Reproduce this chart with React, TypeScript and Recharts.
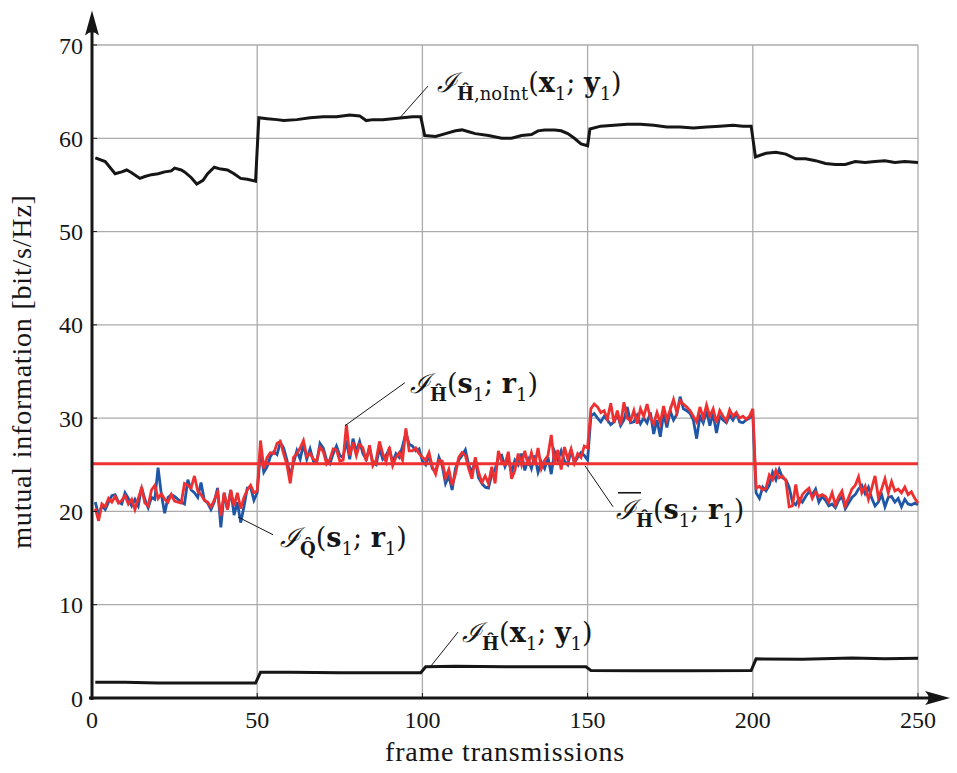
import React from "react";
import { LineChart, Line, XAxis, YAxis, CartesianGrid, ReferenceLine } from "recharts";

// blue: I_Q(s1;r1), red: I_H(s1;r1), one value per frame (1..250)
const iqValues = [
  21.0, 19.6, 20.6, 20.2, 21.0, 21.7, 21.8, 21.0, 20.8, 22.0,
  21.4, 20.6, 21.3, 20.6, 22.6, 21.3, 20.4, 21.5, 21.3, 24.7,
  21.8, 19.8, 21.5, 21.8, 21.6, 21.3, 21.0, 20.8, 23.4, 22.3,
  22.0, 21.5, 23.1, 21.2, 20.9, 20.2, 21.0, 22.5, 18.3, 22.0,
  20.2, 22.3, 19.6, 21.0, 18.8, 20.5, 22.5, 22.6, 21.2, 22.0,
  26.5, 24.2, 24.8, 25.9, 26.4, 26.1, 27.4, 26.8, 25.5, 23.8,
  25.2, 26.5, 25.6, 27.2, 25.6, 26.7, 25.4, 25.2, 27.3, 26.8,
  25.5, 25.1, 26.2, 27.0, 26.0, 25.8, 27.6, 25.6, 27.8, 26.4,
  27.5, 26.2, 25.6, 26.8, 25.2, 25.0, 26.8, 25.6, 26.0, 26.7,
  25.3, 26.2, 25.8, 27.0, 28.4, 27.2, 27.0, 26.5, 26.7, 25.4,
  25.0, 26.0, 24.6, 24.2, 25.8, 24.9, 23.0, 23.8, 22.3, 24.6,
  25.5, 26.0, 26.6, 25.0, 24.2, 25.5, 23.6, 23.0, 22.6, 22.5,
  24.0, 24.5, 25.8, 26.0, 24.8, 25.6, 24.2, 25.5, 25.0, 26.2,
  24.4, 25.6, 24.6, 26.0, 24.2, 25.3, 24.6, 25.8, 24.0, 26.4,
  25.5, 26.5, 25.4, 25.0, 26.6, 25.2, 25.8, 26.3, 26.0, 25.5,
  30.2, 30.5, 30.0, 29.6, 30.2, 29.8, 29.3, 29.6, 30.4, 29.2,
  29.8, 31.2, 29.5, 29.6, 30.3, 29.4, 30.0, 29.5, 30.6, 28.3,
  29.8, 28.0, 30.5, 29.0, 30.8, 29.8, 30.4, 32.3, 31.0, 30.8,
  30.5, 29.8, 27.8, 30.2, 29.5, 30.8, 29.2, 30.5, 28.4, 30.2,
  29.8, 29.5, 30.3, 29.8, 30.5, 29.6, 29.5, 29.8, 30.0, 30.4,
  22.0, 21.4, 22.6, 22.2, 22.8, 24.2, 23.4, 24.5, 23.6, 23.4,
  22.6, 21.0, 20.7, 21.4, 21.0, 21.6, 22.1, 21.8, 22.4, 21.0,
  21.6, 21.2, 20.6, 20.8, 20.4, 21.2, 21.6, 20.3, 20.9, 21.5,
  21.8, 22.4, 22.8, 21.9, 22.6, 21.4, 20.6, 21.0, 21.8, 20.5,
  21.5, 21.6, 21.0, 21.4, 20.5, 21.3, 20.8, 20.7, 20.9, 20.7,
];

const ihValues = [
  20.3, 19.0, 20.8, 20.5, 21.4, 21.0, 21.6, 20.9, 21.2, 21.7,
  20.8, 21.3, 20.2, 21.4, 22.5, 20.9, 20.6, 22.3, 22.8, 21.4,
  21.9, 21.3, 21.0, 21.8, 21.1, 21.0, 20.9, 23.0, 22.8, 22.5,
  23.8, 22.2, 21.8, 21.2, 21.0, 20.5, 21.2, 22.1, 19.5, 22.0,
  20.2, 22.3, 20.6, 22.0, 20.3, 21.5, 22.3, 22.8, 22.0, 22.2,
  27.6, 24.6, 25.8, 26.3, 26.2, 27.3, 27.5, 26.2, 25.0, 23.0,
  25.8, 26.2, 26.8, 27.6, 25.9, 26.2, 25.6, 25.4, 26.9, 26.4,
  25.1, 25.6, 26.7, 26.6, 25.4, 25.5, 29.3, 26.0, 27.4, 26.0,
  27.2, 26.8, 25.4, 27.1, 24.9, 25.5, 27.5, 26.2, 25.3, 26.9,
  24.9, 25.8, 26.3, 25.5, 28.9, 26.5, 26.5, 26.8, 26.2, 25.8,
  25.5, 26.3, 24.8, 24.0, 25.5, 25.4, 23.6, 24.5, 22.8, 24.0,
  25.8, 26.3, 26.0, 24.6, 23.5, 25.8, 24.2, 23.1, 23.8, 23.0,
  24.8, 23.0, 26.5, 25.3, 25.0, 26.4, 23.5, 24.4, 26.2, 25.0,
  26.5, 24.9, 26.3, 25.0, 26.8, 24.6, 25.5, 26.0, 28.2, 25.0,
  26.6, 24.5, 26.9, 25.6, 26.7, 25.2, 26.2, 25.8, 27.0, 26.8,
  31.0, 31.5, 31.2, 30.6, 30.8, 29.9, 31.6, 29.5, 30.8, 29.3,
  31.7, 30.0, 29.7, 30.8, 29.4, 31.0, 30.2, 31.5, 30.0, 29.4,
  30.6, 29.5, 31.3, 29.8, 30.9, 32.0, 30.6, 31.9, 31.5, 31.2,
  30.8, 30.2, 29.6, 31.2, 30.0, 31.4, 30.2, 31.0, 29.5, 30.8,
  30.2, 29.7, 30.9, 30.2, 30.6, 30.0, 30.2, 29.9, 30.2, 31.0,
  22.5, 22.7, 22.3, 22.5, 23.9, 23.4, 24.4, 23.6, 23.8, 23.3,
  20.5, 20.6, 22.9, 20.8, 21.8, 22.2, 22.5, 21.4, 22.1, 21.6,
  21.8, 21.6, 21.0, 22.0, 20.7, 21.6, 22.2, 20.6, 21.5, 22.4,
  22.8, 23.7, 22.0, 22.7, 21.3, 22.5, 23.8, 21.5, 22.4, 23.5,
  22.0, 23.2, 22.2, 22.4, 22.0, 22.6, 21.8, 22.1, 21.4, 20.9,
];

// I_H,noInt(x1;y1)
const noIntFrames = [
  1, 4, 7, 9, 10.5, 12, 14.5, 16, 18, 20, 22, 24, 25, 27, 28, 30, 31.7, 33.6, 35, 37, 39, 41, 43, 45, 47, 49.5,
  50.5, 53, 56, 58, 62, 66, 70, 74, 78, 81, 83, 85, 88, 91, 94, 97, 99.5,
  100.7, 104, 107, 110, 112, 114, 116, 120, 124, 127, 130, 133, 135, 137, 140, 142, 144, 146, 148, 150,
  150.7, 154, 158, 162, 166, 170, 174, 178, 182, 186, 190, 194, 197, 199.5,
  200.8, 204, 207, 210, 213, 216, 219, 222, 225, 228, 231, 234, 237, 240, 243, 246, 250,
];
const noIntValues = [
  57.9, 57.5, 56.2, 56.4, 56.6, 56.3, 55.7, 55.9, 56.1, 56.2, 56.4, 56.5, 56.8, 56.6, 56.4, 55.8, 55.1, 55.5, 56.2, 56.9, 56.7, 56.6, 56.2, 55.7, 55.6, 55.4,
  62.2, 62.1, 62.0, 61.9, 62.0, 62.2, 62.3, 62.3, 62.5, 62.4, 61.9, 62.0, 62.0, 62.1, 62.2, 62.3, 62.3,
  60.3, 60.2, 60.5, 60.8, 60.9, 60.7, 60.5, 60.3, 60.0, 60.0, 60.3, 60.4, 60.8, 60.9, 60.9, 60.8, 60.5, 60.0, 59.4, 59.2,
  61.0, 61.3, 61.4, 61.5, 61.5, 61.4, 61.2, 61.2, 61.1, 61.2, 61.3, 61.4, 61.3, 61.3,
  58.0, 58.4, 58.5, 58.3, 57.8, 57.8, 57.6, 57.3, 57.2, 57.2, 57.5, 57.4, 57.5, 57.6, 57.4, 57.5, 57.4,
];

// I_H(x1;y1)
const xyFrames = [1, 10, 20, 30, 40, 49.5, 51, 60, 75, 90, 99.5, 101, 110, 125, 140, 149.5, 151, 165, 180, 199.5, 201, 215, 230, 240, 250];
const xyValues = [1.68, 1.68, 1.62, 1.62, 1.6, 1.6, 2.75, 2.76, 2.72, 2.72, 2.72, 3.35, 3.4, 3.35, 3.35, 3.35, 2.95, 2.93, 2.93, 2.95, 4.2, 4.15, 4.28, 4.22, 4.25];

// mean of I_H(s1;r1)
const meanFrames = [0, 250];
const meanValue = 25.1;

const xTicks = [0, 50, 100, 150, 200, 250];
const yTicks = [0, 10, 20, 30, 40, 50, 60, 70];

const rows = iqValues.map((v, i) => ({ frame: i + 1, iq: v, ih: ihValues[i] }));
const noIntData = noIntFrames.map((f, i) => ({ frame: f, v: noIntValues[i] }));
const xyData = xyFrames.map((f, i) => ({ frame: f, v: xyValues[i] }));
const meanData = meanFrames.map((f) => ({ frame: f, v: meanValue }));

const BLUE = "#1f57a8";
const RED = "#ee3030";
const INK = "#161616";
const SERIF = "'Liberation Serif', 'DejaVu Serif', serif";
const MATH = "'DejaVu Serif', serif";

type Tok = { t: string; b?: boolean; i?: boolean; sub?: boolean };

const MathText = ({ x, y, toks, bar }: { x: number; y: number; toks: Tok[]; bar?: boolean }) => {
  let down = false;
  return (
    <g>
      {bar && <line x1={x + 2} y1={y - 26} x2={x + 25} y2={y - 26} stroke={INK} strokeWidth={1.6} />}
      <text x={x} y={y} fontFamily={MATH} fontSize={27} fill={INK}>
        {toks.map((k, idx) => {
          let dy = 0;
          if (k.sub && !down) { dy = 8; down = true; }
          else if (!k.sub && down) { dy = -8; down = false; }
          return (
            <tspan key={idx} dy={dy} fontSize={k.sub ? 18 : 27}
              fontWeight={k.b ? "bold" : "normal"} fontStyle={k.i ? "italic" : "normal"}>
              {k.t}
            </tspan>
          );
        })}
      </text>
    </g>
  );
};

const argsS: Tok[] = [{ t: "(" }, { t: "s", b: true }, { t: "1", sub: true }, { t: "; " }, { t: "r", b: true }, { t: "1", sub: true }, { t: ")" }];
const argsX: Tok[] = [{ t: "(" }, { t: "x", b: true }, { t: "1", sub: true }, { t: "; " }, { t: "y", b: true }, { t: "1", sub: true }, { t: ")" }];
const I: Tok = { t: "ℐ", i: true };

const labelNoInt: Tok[] = [I, { t: "Ĥ", b: true, sub: true }, { t: ",noInt", sub: true }, ...argsX];
const labelHs: Tok[] = [I, { t: "Ĥ", b: true, sub: true }, ...argsS];
const labelQs: Tok[] = [I, { t: "Q\u0302", b: true, sub: true }, ...argsS];
const labelHx: Tok[] = [I, { t: "Ĥ", b: true, sub: true }, ...argsX];

const leader = (toks: Tok[], dx: number, dy: number, bar?: boolean) => (p: any) => (
  <g>
    <line x1={p.x1} y1={p.y1} x2={p.x2} y2={p.y2} stroke={INK} strokeWidth={1} />
    <MathText x={p.x2 + dx} y={p.y2 + dy} toks={toks} bar={bar} />
  </g>
);

const vArrow = (p: any) => (
  <g>
    <line x1={p.x1} y1={p.y1 + 2} x2={p.x2} y2={p.y2 + 12} stroke={INK} strokeWidth={3} />
    <path d={`M${p.x2},${p.y2} L${p.x2 - 7},${p.y2 + 25} Q${p.x2},${p.y2 + 18} ${p.x2 + 7},${p.y2 + 25} Z`} fill={INK} />
  </g>
);

const hArrow = (p: any) => (
  <g>
    <line x1={p.x1 - 3} y1={p.y1} x2={p.x2 - 12} y2={p.y2} stroke={INK} strokeWidth={3} />
    <path d={`M${p.x2},${p.y2} L${p.x2 - 25},${p.y2 - 7} Q${p.x2 - 18},${p.y2} ${p.x2 - 25},${p.y2 + 7} Z`} fill={INK} />
  </g>
);

const App = () => {
  return (
    <div style={{ position: "absolute", left: 0, top: 0, background: "#fff" }}>
      <LineChart width={957} height={773} data={rows} margin={{ top: 45, right: 39, bottom: 35, left: 0 }}>
        <CartesianGrid stroke="#ababab" strokeWidth={1.3} />
        <XAxis
          dataKey="frame" type="number" domain={[0, 250]} ticks={xTicks} height={40}
          axisLine={false} tickSize={-5} tickMargin={18} tickLine={{ stroke: INK }}
          tick={{ fill: INK, fontSize: 24, fontFamily: SERIF }}
          label={{
            content: ({ viewBox }: any) => (
              <text x={viewBox.x + viewBox.width / 2} y={viewBox.y + 63} textAnchor="middle"
                fontFamily={SERIF} fontSize={28} letterSpacing={0.8} fill={INK}>frame transmissions</text>
            ),
          }}
        />
        <XAxis xAxisId="top" orientation="top" type="number" domain={[0, 250]} ticks={xTicks}
          mirror height={1} axisLine={false} tick={false} tickSize={5} tickLine={{ stroke: INK }} />
        <YAxis
          type="number" domain={[0, 70]} ticks={yTicks} width={92}
          axisLine={false} tickSize={-5} tickMargin={14} tickLine={{ stroke: INK }}
          tick={{ fill: INK, fontSize: 24, fontFamily: SERIF }}
          label={{
            content: ({ viewBox }: any) => {
              const cx = viewBox.x + 21;
              const cy = viewBox.y + viewBox.height / 2;
              return (
                <text x={cx} y={cy} textAnchor="middle" dominantBaseline="central"
                  transform={`rotate(-90 ${cx} ${cy})`} fontFamily={SERIF} fontSize={28}
                  letterSpacing={0.8} fill={INK}>
                  mutual information [bit/s/Hz]
                </text>
              );
            },
          }}
        />
        <YAxis yAxisId="right" orientation="right" type="number" domain={[0, 70]} ticks={yTicks}
          mirror width={1} axisLine={false} tick={false} tickSize={5} tickLine={{ stroke: INK }} />

        <Line dataKey="iq" stroke={BLUE} strokeWidth={2.8} dot={false} isAnimationActive={false} />
        <Line dataKey="ih" stroke={RED} strokeWidth={2.8} dot={false} isAnimationActive={false} />
        <Line data={meanData} dataKey="v" stroke={RED} strokeWidth={3} dot={false} isAnimationActive={false} />
        <Line data={noIntData} dataKey="v" stroke={INK} strokeWidth={3} dot={false} isAnimationActive={false} />
        <Line data={xyData} dataKey="v" stroke={INK} strokeWidth={3} dot={false} isAnimationActive={false} />

        <ReferenceLine segment={[{ x: 0, y: 0 }, { x: 0, y: 73.7 }]} ifOverflow="visible" shape={vArrow} />
        <ReferenceLine segment={[{ x: 0, y: 0 }, { x: 259.7, y: 0 }]} ifOverflow="visible" shape={hArrow} />

        <ReferenceLine segment={[{ x: 93.2, y: 62.2 }, { x: 101.7, y: 65.6 }]} ifOverflow="visible" shape={leader(labelNoInt, 9, 6)} />
        <ReferenceLine segment={[{ x: 76.6, y: 29.2 }, { x: 94.7, y: 33.8 }]} ifOverflow="visible" shape={leader(labelHs, 5, 10)} />
        <ReferenceLine segment={[{ x: 44.2, y: 19.4 }, { x: 54.8, y: 17.5 }]} ifOverflow="visible" shape={leader(labelQs, 7, 12)} />
        <ReferenceLine segment={[{ x: 149.2, y: 24.9 }, { x: 157.7, y: 20.5 }]} ifOverflow="visible" shape={leader(labelHs, 3, 12, true)} />
        <ReferenceLine segment={[{ x: 102.3, y: 3.3 }, { x: 110.8, y: 7.07 }]} ifOverflow="visible" shape={leader(labelHx, 4, 10)} />
      </LineChart>
    </div>
  );
};

export default App;
